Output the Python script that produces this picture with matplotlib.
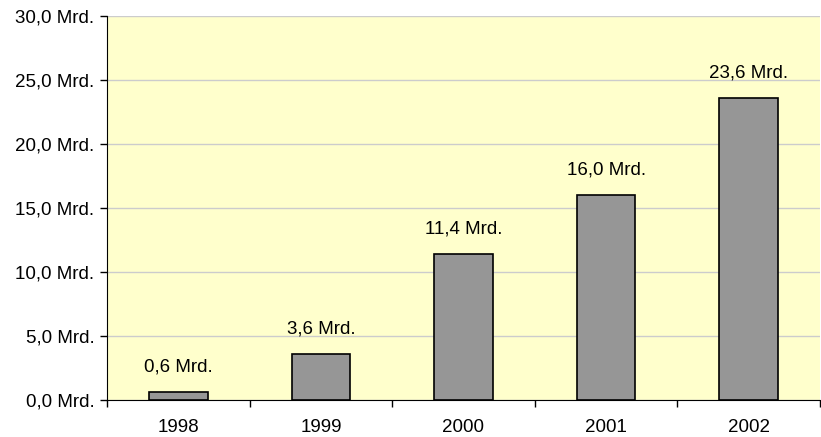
import matplotlib.pyplot as plt
import numpy as np

plt.rcParams['font.family'] = ['Liberation Sans', 'DejaVu Sans']

years = ['1998', '1999', '2000', '2001', '2002']
values = [0.6, 3.6, 11.4, 16.0, 23.6]
y_ticks = [0, 5, 10, 15, 20, 25, 30]


def fmt_mrd(v):
    return f"{v:.1f}".replace('.', ',') + " Mrd."


fig = plt.figure(figsize=(8.21, 4.37), dpi=100)
ax = fig.add_axes([0.1303, 0.0847, 0.8685, 0.8787])
ax.set_facecolor('#FFFFCC')

x = np.arange(len(years))
ax.bar(x, values, width=0.41, color='#969696', edgecolor='black', linewidth=1.2, zorder=3)

for xi, v in zip(x, values):
    ax.annotate(fmt_mrd(v), (xi, v), xytext=(0, 12), textcoords='offset points',
                ha='center', va='bottom', fontsize=13.5)

ax.set_xlim(-0.5, len(years) - 0.5)
ax.set_ylim(0, 30)
ax.set_yticks(y_ticks)
ax.set_yticklabels([fmt_mrd(t) for t in y_ticks], fontsize=13.5)
ax.yaxis.grid(True, color='#CCCCCC', linewidth=1, zorder=0)
ax.set_axisbelow(True)

# category labels centred, tick marks between categories
ax.set_xticks(x)
ax.set_xticklabels(years, fontsize=13.5)
ax.tick_params(axis='x', length=0, pad=13.5)
ax.set_xticks(np.arange(len(years) + 1) - 0.5, minor=True)
ax.tick_params(axis='x', which='minor', length=5, width=1, direction='out')
ax.tick_params(axis='y', length=5, width=1, direction='out', pad=4)

for side in ['top', 'right']:
    ax.spines[side].set_visible(False)
ax.spines['left'].set_color('black')
ax.spines['bottom'].set_color('black')

fig.savefig('out.png', dpi=100)
